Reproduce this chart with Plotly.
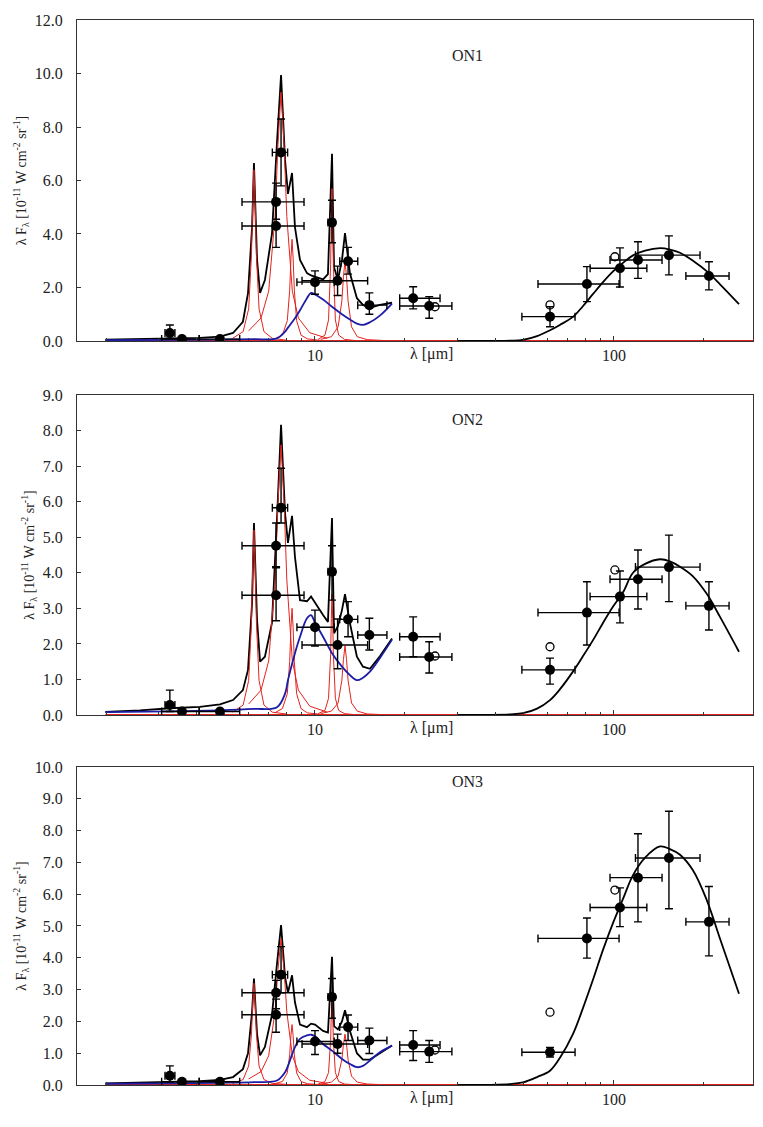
import plotly.graph_objects as go
from plotly.subplots import make_subplots

# ---- mid-IR model grid (um) and model curves ----
mir_wave = [1.99, 2.60, 3.27, 4.12, 4.81, 5.32, 5.74, 5.97, 6.16, 6.25, 6.40, 6.55, 6.80,
            7.18, 7.46, 7.70, 7.94, 8.12, 8.38, 8.57, 8.91, 9.40, 9.70, 10.0, 10.64, 11.05,
            11.40, 11.58, 11.93, 12.31, 12.60, 13.09, 13.81, 14.47, 15.27, 16.48, 18.1]
on1_total = [0.05, 0.07, 0.09, 0.12, 0.16, 0.3, 0.72, 1.79, 4.26, 6.65, 3.03, 1.8, 2.28,
             4.0, 7.4, 9.94, 6.77, 5.5, 6.28, 4.26, 3.03, 2.54, 2.45, 2.4, 2.3, 2.5,
             7.0, 2.76, 2.28, 3.03, 4.03, 2.53, 1.6, 1.35, 1.24, 1.35, 1.43]
on2_total = [0.09, 0.13, 0.19, 0.23, 0.3, 0.42, 0.7, 1.27, 3.15, 5.4, 2.67, 1.5, 1.64,
             2.59, 5.48, 8.16, 5.68, 4.84, 5.6, 4.45, 3.23, 3.2, 3.33, 3.15, 2.81, 2.62,
             5.54, 2.3, 2.5, 2.95, 3.4, 2.58, 1.64, 1.36, 1.3, 1.65, 2.15]
on3_total = [0.05, 0.07, 0.1, 0.12, 0.16, 0.25, 0.5, 1.0, 2.3, 3.35, 1.6, 0.93, 1.2,
             2.2, 3.8, 5.03, 3.4, 2.9, 3.45, 2.6, 1.9, 1.82, 1.93, 1.9, 1.7, 1.65,
             4.03, 1.85, 1.75, 2.0, 2.35, 1.7, 1.0, 0.8, 0.8, 1.0, 1.24]

# warm dust continuum (blue)
cont_wave = [1.99, 3.27, 4.81, 6.25, 7.46, 7.94, 8.12, 8.57, 8.91, 9.40, 9.70, 10.0,
             10.64, 11.4, 12.31, 13.09, 13.81, 14.47, 15.27, 16.48, 18.1]
on1_cont = [0.03, 0.04, 0.05, 0.07, 0.1, 0.35, 0.5, 0.85, 1.15, 1.6, 1.8, 1.74,
            1.55, 1.28, 1.0, 0.8, 0.65, 0.6, 0.7, 0.95, 1.4]
on2_cont = [0.08, 0.1, 0.13, 0.17, 0.22, 0.6, 0.98, 1.74, 2.2, 2.72, 2.81, 2.6,
            2.2, 1.74, 1.36, 1.12, 0.98, 1.05, 1.22, 1.6, 2.12]
on3_cont = [0.04, 0.05, 0.07, 0.09, 0.14, 0.4, 0.6, 1.19, 1.45, 1.56, 1.58, 1.53,
            1.29, 1.08, 0.82, 0.66, 0.56, 0.6, 0.77, 1.03, 1.24]

# PAH band profiles (red)
f62_wave = [5.30, 5.75, 6.00, 6.13, 6.19, 6.25, 6.31, 6.37, 6.50, 6.75, 7.20, 8.00]
f77_wave = [6.00, 6.60, 7.00, 7.35, 7.52, 7.70, 7.88, 8.05, 8.40, 8.80, 9.60, 11.0]
f86_wave = [7.33, 7.78, 8.08, 8.23, 8.31, 8.38, 8.45, 8.53, 8.68, 8.98, 9.43, 10.43]
f113_wave = [10.25, 10.8, 11.1, 11.28, 11.34, 11.40, 11.46, 11.52, 11.70, 12.0, 12.55, 13.55]
f127_wave = [10.45, 11.35, 11.95, 12.3, 12.45, 12.6, 12.75, 12.9, 13.25, 13.85, 14.95, 16.95]

on1_f62 = [0.1, 0.35, 1.2, 3.2, 5.1, 6.4, 5.1, 3.2, 1.2, 0.35, 0.1, 0.03]
on1_f77 = [0.38, 0.86, 1.86, 4.65, 7.35, 9.3, 7.35, 4.65, 1.86, 0.86, 0.31, 0.1]
on1_f86 = [0.08, 0.22, 0.76, 1.9, 3.1, 3.8, 3.1, 1.9, 0.76, 0.22, 0.08, 0.02]
on1_f113 = [0.06, 0.22, 0.79, 2.85, 4.56, 5.7, 4.56, 2.85, 0.79, 0.22, 0.06, 0.02]
on1_f127 = [0.06, 0.16, 0.53, 1.5, 2.4, 3.0, 2.4, 1.5, 0.53, 0.16, 0.05, 0.02]

on2_f62 = [0.08, 0.28, 0.97, 2.6, 4.16, 5.2, 4.16, 2.6, 0.97, 0.28, 0.08, 0.03]
on2_f77 = [0.31, 0.7, 1.52, 3.8, 6.0, 7.6, 6.0, 3.8, 1.52, 0.7, 0.25, 0.08]
on2_f86 = [0.06, 0.18, 0.6, 1.5, 2.46, 3.0, 2.46, 1.5, 0.6, 0.18, 0.06, 0.02]
on2_f113 = [0.04, 0.13, 0.47, 1.7, 2.72, 3.4, 2.72, 1.7, 0.47, 0.13, 0.04, 0.01]
on2_f127 = [0.04, 0.11, 0.34, 0.98, 1.56, 1.95, 1.56, 0.98, 0.34, 0.11, 0.03, 0.01]

on3_f62 = [0.05, 0.17, 0.6, 1.6, 2.56, 3.2, 2.56, 1.6, 0.6, 0.17, 0.05, 0.02]
on3_f77 = [0.19, 0.42, 0.92, 2.3, 3.63, 4.6, 3.63, 2.3, 0.92, 0.42, 0.15, 0.05]
on3_f86 = [0.04, 0.11, 0.38, 0.95, 1.56, 1.9, 1.56, 0.95, 0.38, 0.11, 0.04, 0.01]
on3_f113 = [0.03, 0.11, 0.39, 1.4, 2.24, 2.8, 2.24, 1.4, 0.39, 0.11, 0.03, 0.01]
on3_f127 = [0.03, 0.09, 0.28, 0.8, 1.28, 1.6, 1.28, 0.8, 0.28, 0.09, 0.03, 0.01]

base_wave = [1.99, 292.0]
base_flux = [0.0, 0.0]

# cold dust modified blackbody (black, far-IR)
fir_wave = [30, 45, 49.6, 55.3, 61.1, 65.9, 72.9, 78.7, 85.0, 91.9, 99.3, 107.2, 115.8,
            127.1, 142.6, 153.9, 166.3, 183.7, 204.6, 226.3, 261.9]
on1_fir = [0.0, 0.01, 0.04, 0.18, 0.4, 0.6, 0.9, 1.3, 1.75, 2.2, 2.6, 2.92, 3.2,
           3.38, 3.47, 3.42, 3.3, 3.0, 2.6, 2.12, 1.38]
on2_fir = [0.0, 0.02, 0.05, 0.18, 0.42, 0.72, 1.22, 1.65, 2.1, 2.59, 3.05, 3.45, 4.0,
           4.25, 4.38, 4.32, 4.17, 3.9, 3.4, 2.76, 1.78]
on3_fir = [0.0, 0.03, 0.08, 0.25, 0.45, 0.85, 1.6, 2.41, 3.3, 4.25, 5.1, 5.85, 6.6,
           7.15, 7.5, 7.42, 7.24, 6.75, 5.8, 4.6, 2.87]

# ---- photometry ----
pt_wave = [3.27, 3.59, 4.81, 7.41, 7.41, 7.70, 10.0, 11.4, 11.9, 12.9, 15.2, 21.3, 24.1,
           61.1, 81.2, 104.7, 120.3, 152.7, 207.8]
pt_wave_lo = [3.15, 3.07, 4.10, 5.70, 5.70, 7.20, 8.70, 11.05, 9.05, 12.1, 13.9, 19.2, 19.2,
              49.2, 55.7, 83.2, 97.0, 118.0, 174.0]
pt_wave_hi = [3.40, 4.10, 5.60, 9.19, 9.19, 8.10, 11.6, 11.65, 15.0, 13.9, 17.4, 26.2, 28.7,
              74.1, 104.0, 128.8, 144.8, 194.0, 242.6]

on1_flux = [0.30, 0.07, 0.07, 5.20, 4.30, 7.05, 2.20, 4.43, 2.25, 2.98, 1.34, 1.60, 1.31,
            0.91, 2.13, 2.72, 3.03, 3.21, 2.43]
on1_lo = [0.10, 0.03, 0.03, 4.55, 3.50, 5.80, 1.75, 3.67, 1.70, 2.50, 1.00, 1.20, 0.85,
          0.53, 1.47, 2.02, 2.34, 2.47, 1.91]
on1_hi = [0.60, 0.12, 0.12, 5.90, 5.10, 8.30, 2.62, 5.26, 2.80, 3.50, 1.80, 2.03, 1.66,
          1.28, 2.78, 3.48, 3.71, 3.93, 2.96]

on2_flux = [0.28, 0.10, 0.10, 4.76, 3.37, 5.83, 2.47, 4.03, 1.97, 2.69, 2.25, 2.20, 1.63,
            1.27, 2.88, 3.33, 3.82, 4.16, 3.07]
on2_lo = [0.10, 0.05, 0.05, 4.17, 2.65, 5.40, 1.94, 3.23, 1.30, 2.20, 1.83, 1.64, 1.18,
          0.87, 1.97, 2.59, 2.98, 3.19, 2.39]
on2_hi = [0.70, 0.15, 0.15, 5.40, 4.14, 6.94, 2.95, 4.76, 2.70, 3.19, 2.72, 2.76, 2.06,
          1.60, 3.75, 4.05, 4.64, 5.06, 3.75]

on3_flux = [0.29, 0.10, 0.10, 2.90, 2.21, 3.47, 1.37, 2.77, 1.29, 1.82, 1.40, 1.26, 1.05,
            1.03, 4.61, 5.58, 6.52, 7.14, 5.13]
on3_lo = [0.10, 0.05, 0.05, 2.40, 1.66, 2.90, 0.96, 2.10, 1.00, 1.40, 0.99, 0.77, 0.71,
          0.88, 3.99, 4.98, 5.13, 5.54, 4.06]
on3_hi = [0.60, 0.15, 0.15, 3.29, 2.70, 4.35, 1.71, 3.35, 1.60, 2.20, 1.79, 1.71, 1.40,
          1.18, 5.25, 6.20, 7.90, 8.61, 6.24]

open_wave = [25.2, 61.1, 100.7]
on1_open = [1.28, 1.35, 3.15]
on2_open = [1.66, 1.92, 4.08]
on3_open = [1.10, 2.29, 6.13]

panels = [
    ("ON1", on1_total, on1_cont, [on1_f62, on1_f77, on1_f86, on1_f113, on1_f127], on1_fir,
     on1_flux, on1_lo, on1_hi, on1_open, 12, 2),
    ("ON2", on2_total, on2_cont, [on2_f62, on2_f77, on2_f86, on2_f113, on2_f127], on2_fir,
     on2_flux, on2_lo, on2_hi, on2_open, 9, 1),
    ("ON3", on3_total, on3_cont, [on3_f62, on3_f77, on3_f86, on3_f113, on3_f127], on3_fir,
     on3_flux, on3_lo, on3_hi, on3_open, 10, 1),
]
feat_waves = [f62_wave, f77_wave, f86_wave, f113_wave, f127_wave]

SERIF = "Liberation Serif"
RED = "#e3231d"
BLUE = "#1c1ca6"
YTITLE = "λ F<sub>λ</sub> [10<sup>-11</sup> W cm<sup>-2</sup> sr<sup>-1</sup>]"

fig = make_subplots(rows=3, cols=1)

# panel domains (paper fraction, bottom to top)
domains = [[0.6986, 1.0], [0.3474, 0.6479], [0.0, 0.2986]]

for i, (name, total, cont, feats, fir, flux, lo, hi, opn, ymax, dt) in enumerate(panels):
    r = i + 1
    fig.add_trace(go.Scatter(x=mir_wave, y=total, mode="lines",
                             line=dict(color="black", width=1.8)), row=r, col=1)
    fig.add_trace(go.Scatter(x=base_wave, y=base_flux, mode="lines",
                             line=dict(color=RED, width=2)), row=r, col=1)
    for fw, fv in zip(feat_waves, feats):
        fig.add_trace(go.Scatter(x=fw, y=fv, mode="lines",
                                 line=dict(color=RED, width=1.0)), row=r, col=1)
    fig.add_trace(go.Scatter(x=cont_wave, y=cont, mode="lines", line_shape="spline",
                             line=dict(color=BLUE, width=1.8)), row=r, col=1)
    fig.add_trace(go.Scatter(x=fir_wave, y=fir, mode="lines", line_shape="spline",
                             line=dict(color="black", width=1.8)), row=r, col=1)
    fig.add_trace(go.Scatter(
        x=pt_wave, y=flux, mode="markers",
        marker=dict(color="black", size=10),
        error_x=dict(type="data", symmetric=False,
                     array=[h - w for h, w in zip(pt_wave_hi, pt_wave)],
                     arrayminus=[w - l for l, w in zip(pt_wave_lo, pt_wave)],
                     color="black", thickness=1.4, width=4),
        error_y=dict(type="data", symmetric=False,
                     array=[h - f for h, f in zip(hi, flux)],
                     arrayminus=[f - l for l, f in zip(lo, flux)],
                     color="black", thickness=1.4, width=4)), row=r, col=1)
    fig.add_trace(go.Scatter(x=open_wave, y=opn, mode="markers",
                             marker=dict(symbol="circle-open", color="black", size=8,
                                         line=dict(width=1.3))), row=r, col=1)

    fig.update_xaxes(type="log", range=[0.204, 2.465], tickvals=[10, 100], ticktext=["10", "100"],
                     ticks="inside", ticklen=5, tickcolor="#333", automargin=False,
                     minor=dict(tickvals=[2, 3, 4, 5, 6, 7, 8, 9, 20, 30, 40, 50, 60, 70, 80, 90, 200],
                                ticks="inside", ticklen=3, tickcolor="#333"),
                     showline=True, linecolor="#333", linewidth=1.3, mirror=True, showgrid=False,
                     zeroline=False, tickfont=dict(family=SERIF, size=16, color="#222"),
                     row=r, col=1)
    fig.update_yaxes(range=[0, ymax], dtick=dt, tick0=0, tickformat=".1f", ticks="inside",
                     ticklen=4, tickcolor="#333", showline=True, linecolor="#333", linewidth=1.3,
                     mirror=True, showgrid=False, zeroline=False, domain=domains[i],
                     automargin=False, ticklabelstandoff=10,
                     tickfont=dict(family=SERIF, size=16, color="#222"),
                     title=dict(text=YTITLE, font=dict(family=SERIF, size=14, color="#222"),
                                standoff=4),
                     row=r, col=1)

    fig.add_annotation(text=name, xref="paper", yref="paper", x=0.578, y=domains[i][1],
                       yshift=-25, showarrow=False, font=dict(family=SERIF, size=16, color="#222"))
    fig.add_annotation(text="λ [μm]", xref="paper", yref="paper", x=0.525, y=domains[i][0],
                       yanchor="top", yshift=-2, showarrow=False,
                       font=dict(family=SERIF, size=16, color="#222"))

# the page body adds an 8 px offset, so the figure is made 8 px smaller on each side
fig.update_layout(width=755, height=1119, showlegend=False,
                  paper_bgcolor="white", plot_bgcolor="white",
                  margin=dict(l=69, r=10, t=12, b=42))

fig.write_html("out.html")
